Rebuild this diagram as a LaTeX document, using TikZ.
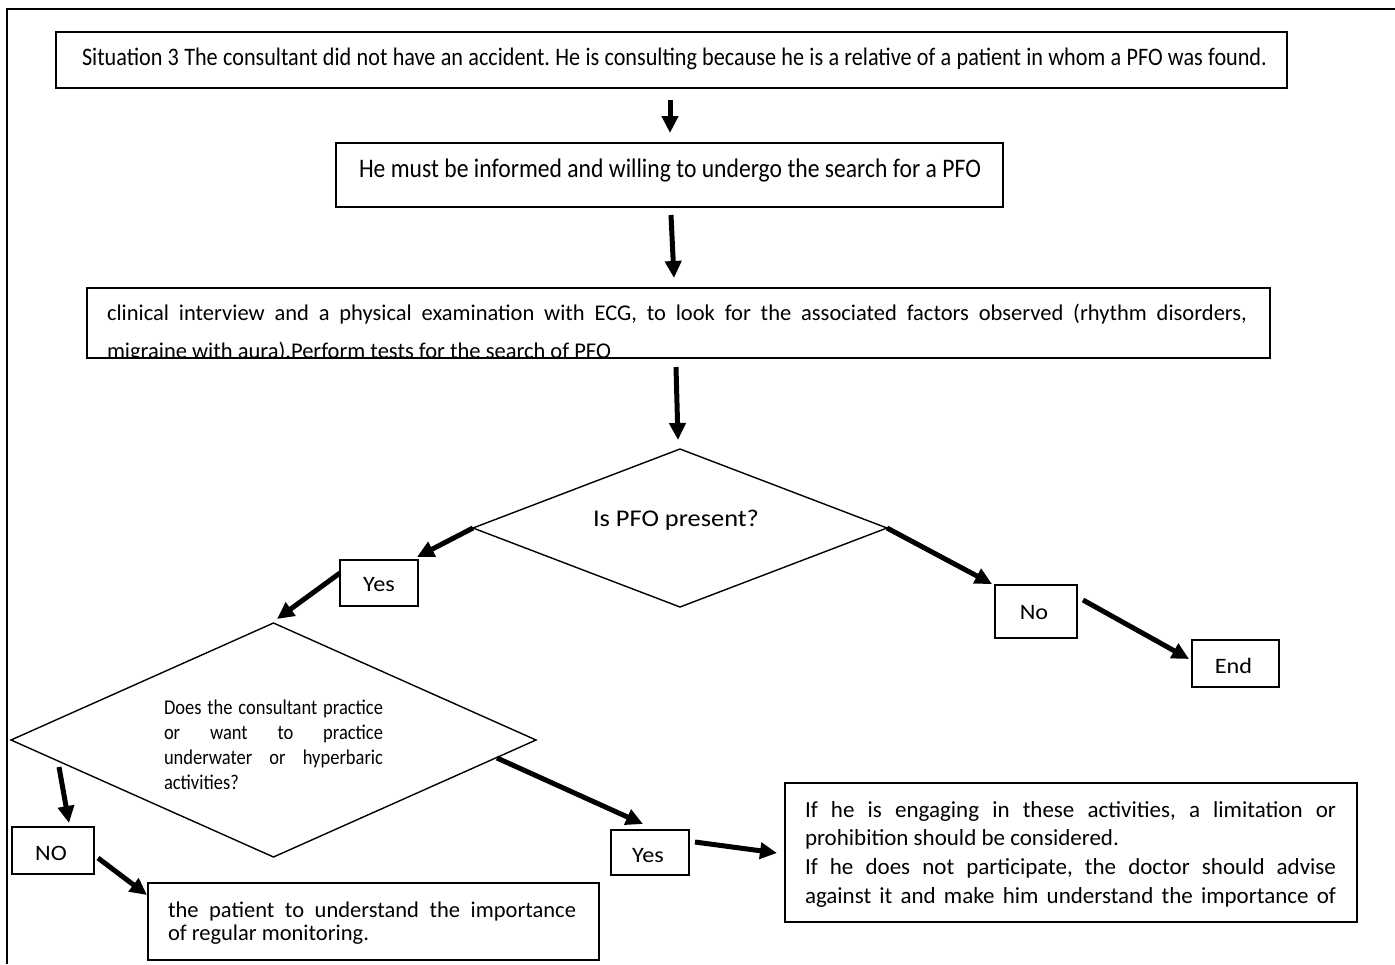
\documentclass[tikz,border=0pt]{standalone}
\usepackage{fontspec}
\setmainfont{Carlito}
\newfontfamily\narrowfont[FakeStretch=0.88]{Carlito}
\newfontfamily\widefont[FakeStretch=1.1]{Carlito}
\usetikzlibrary{arrows.meta,shapes.geometric,fit,calc}
\frenchspacing
% one line of text spread to a given width
\newcommand\jline[2]{\makebox[#1][s]{#2}}
\newcommand\fs[2]{\fontsize{#1pt}{#2pt}\selectfont}

\begin{document}
\begin{tikzpicture}[x=1pt,y=-1pt,
  box/.style={draw, line width=2pt, inner sep=0pt, outer sep=0pt},
  decision/.style={draw, diamond, line width=1.4pt, inner sep=0pt, outer sep=0pt},
  tagtext/.style={inner sep=0pt, outer sep=0pt, font=\widefont\fs{22}{26}},
  txt/.style={inner sep=0pt, outer sep=0pt},
  flow/.style={line width=5pt, -{Triangle[length=17pt,width=16pt]}}
]
\useasboundingbox (0,0) rectangle (1395,964);

% page frame (top and left edges only)
\draw[line width=2pt] (7,964) -- (7,9) -- (1395,9);

% process boxes
\node[box, fit={(56,32) (1287,88)}] (b1) {};
\node[txt, anchor=base west, font=\narrowfont\fs{25.2}{30}] (t1) at (82,65)
  {\jline{1185pt}{Situation 3 The consultant did not have an accident. He is consulting because he is a relative of a patient in whom a PFO was found.}};

\node[box, fit={(336,143) (1003,207)}] (b2) {};
\node[txt, anchor=base west, font=\narrowfont\fs{26.8}{32}] (t2) at (359,177)
  {\jline{622pt}{He must be informed and willing to undergo the search for a PFO}};

\node[box, fit={(87,288) (1270,358)}] (b3) {};
\begin{scope}
  \clip ($(b3.south west)+(1,-1)$) rectangle ($(b3.north east)+(-1,1)$);
  \node[txt, anchor=base west, font=\fs{22.5}{38}] (t3) at (107,320)
    {\vtop{\hbox{\jline{1140pt}{clinical interview and a physical examination with ECG, to look for the associated factors observed (rhythm disorders,}}
           \hbox{migraine with aura).Perform tests for the search of PFO}}};
\end{scope}

% first decision
\node[decision, minimum width=414pt, minimum height=158pt] (d1) at (680,528) {};
\node[txt, anchor=base west, font=\widefont\fs{24}{28}] (q1) at (593,526) {Is PFO present?};

\node[box, fit={(340,560) (418,606)}] (yesA) {};
\node[tagtext] (lyesA) at ($(yesA.center)+(0,2)$) {Yes};
\node[box, fit={(995,585) (1077,638)}] (noA) {};
\node[tagtext] (lnoA) at ($(noA.center)+(-2,1)$) {No};
\node[box, fit={(1192,640) (1279,687)}] (stopbox) {};
\node[tagtext] (lstop) at ($(stopbox.center)+(-2,2)$) {End};

% second decision
\node[decision, minimum width=525pt, minimum height=234pt] (d2) at (273.5,740) {};
\node[txt, anchor=base west, font=\narrowfont\fs{21}{25}] (q2) at (164,714)
  {\vtop{\hbox{\jline{219pt}{Does the consultant practice}}
         \hbox{\jline{219pt}{or want to practice}}
         \hbox{\jline{219pt}{underwater or hyperbaric}}
         \hbox{activities?}}};

\node[box, fit={(12,827) (94,874)}] (noB) {};
\node[tagtext] (lnoB) at ($(noB.center)+(-2,3)$) {NO};
\node[box, fit={(611,830) (689,875)}] (yesB) {};
\node[tagtext] (lyesB) at ($(yesB.center)+(-2,3)$) {Yes};

% outcomes
\node[box, fit={(148,883) (599,960)}] (resA) {};
\node[txt, anchor=base west, font=\fs{22.5}{23.5}] (tA) at (168,917)
  {\vtop{\hbox{\jline{408pt}{the patient to understand the importance}}
         \hbox{of regular monitoring.}}};

\node[box, fit={(785,783) (1357,922)}] (resB) {};
\node[txt, anchor=base west, font=\fs{23}{28.7}] (tB) at (805,817)
  {\vtop{\hbox{\jline{531pt}{If he is engaging in these activities, a limitation or}}
         \hbox{prohibition should be considered.}
         \hbox{\jline{531pt}{If he does not participate, the doctor should advise}}
         \hbox{\jline{531pt}{against it and make him understand the importance of}}}};

% connectors
\draw[flow] ($(b1.south)+(-1.5,12)$) -- ($(b2.north)+(0.5,-10)$);
\draw[flow] ($(b2.south)+(1.5,8)$) -- ($(b3.north)+(-4.5,-10)$);
\draw[flow] ($(b3.south)+(-2.5,9)$) -- ($(d1.north)+(-2,-9)$);
\draw[flow] (d1.west) -- ($(yesA.north east)+(-1,-3)$);
\draw[flow] (d1.east) -- ($(noA.north west)+(-3,-1)$);
\draw[flow] ($(yesA.west)+(0,-10)$) -- ($(d2.north)+(3.5,-4)$);
\draw[flow] ($(noA.east)+(6,-11.5)$) -- ($(stopbox.north west)+(-3,19)$);
\draw[flow] ($(d2.west)+(48,27)$) -- ($(noB.north)+(16,-4)$);
\draw[flow] ($(noB.east)+(4,7.5)$) -- ($(resA.north west)+(-1,12)$);
\draw[flow] ($(d2.east)+(-39,18)$) -- ($(yesB.north)+(-7,-6)$);
\draw[flow] ($(yesB.east)+(6,-10.5)$) -- ($(resB.west)+(-8,0.5)$);
\end{tikzpicture}
\end{document}
